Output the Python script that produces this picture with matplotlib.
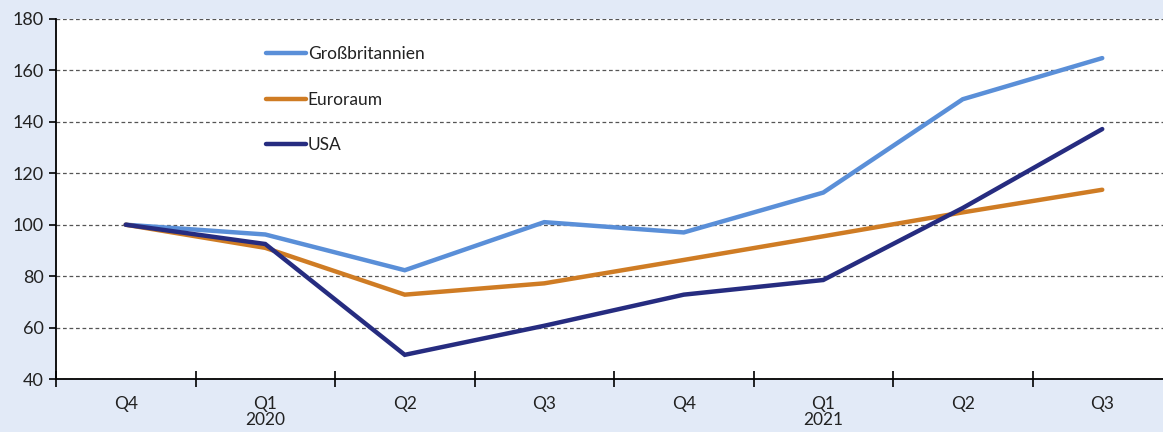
import matplotlib
matplotlib.use("Agg")
import matplotlib.pyplot as plt
import numpy as np
from matplotlib.ticker import FixedLocator

# quarterly index, Q4 2019 = 100
quarters = ["Q4", "Q1\n2020", "Q2", "Q3", "Q4", "Q1\n2021", "Q2", "Q3"]
gb = [100, 96.2, 82.3, 101.0, 97.0, 112.5, 148.8, 164.8]
euro = [100, 91.0, 72.8, 77.2, 86.3, 95.5, 104.8, 113.6]
usa = [100, 92.5, 49.4, 60.7, 72.8, 78.5, 106.5, 137.2]

series_names = ["Großbritannien", "Euroraum", "USA"]
series_colors = ["#5a8fd8", "#cf7c24", "#262c80"]

plt.rcParams["font.family"] = ["Lato", "DejaVu Sans"]
bg = "#e2eaf7"
txt = "#222222"

fig = plt.figure(figsize=(11.63, 4.32), dpi=100, facecolor=bg)
ax = fig.add_axes([56 / 1163, 1 - 379 / 432, (1172 - 56) / 1163, 360 / 432])
ax.set_facecolor("white")

x = np.arange(len(quarters))
for vals, name, col in zip([gb, euro, usa], series_names, series_colors):
    ax.plot(x, vals, color=col, lw=3.2, label=name, solid_capstyle="round",
            solid_joinstyle="miter")

ax.set_ylim(40, 180)
ax.set_xlim(-0.5, 7.5)
ax.set_yticks(np.arange(40, 181, 20))
ax.grid(True, axis="y", linestyle=(0, (3, 2.2)), color="#555555", lw=0.9)
ax.set_axisbelow(True)

ax.set_xticks(x)
ax.set_xticklabels(quarters, fontsize=12.5, color=txt)
ax.xaxis.set_minor_locator(FixedLocator(np.arange(-0.5, 8, 1)))
ax.tick_params(axis="x", which="major", length=0, pad=12)
ax.tick_params(axis="x", which="minor", direction="inout", length=12, width=1.2)
ax.tick_params(axis="y", direction="out", length=5, width=1.2, labelsize=13,
               labelcolor=txt, pad=4)
for lab in ax.get_xticklabels():
    lab.set_linespacing(1.05)

for s in ["top", "right"]:
    ax.spines[s].set_visible(False)
for s in ["left", "bottom"]:
    ax.spines[s].set_linewidth(1.3)
    ax.spines[s].set_color("black")

leg = ax.legend(loc="upper left", bbox_to_anchor=(0.174, 0.968), frameon=False,
                fontsize=12.5, handlelength=2.3, handletextpad=0.12,
                labelspacing=1.7)
for t in leg.get_texts():
    t.set_color(txt)
for h in leg.get_lines():
    h.set_linewidth(3.2)

fig.savefig("out.png", dpi=100, facecolor=bg)
